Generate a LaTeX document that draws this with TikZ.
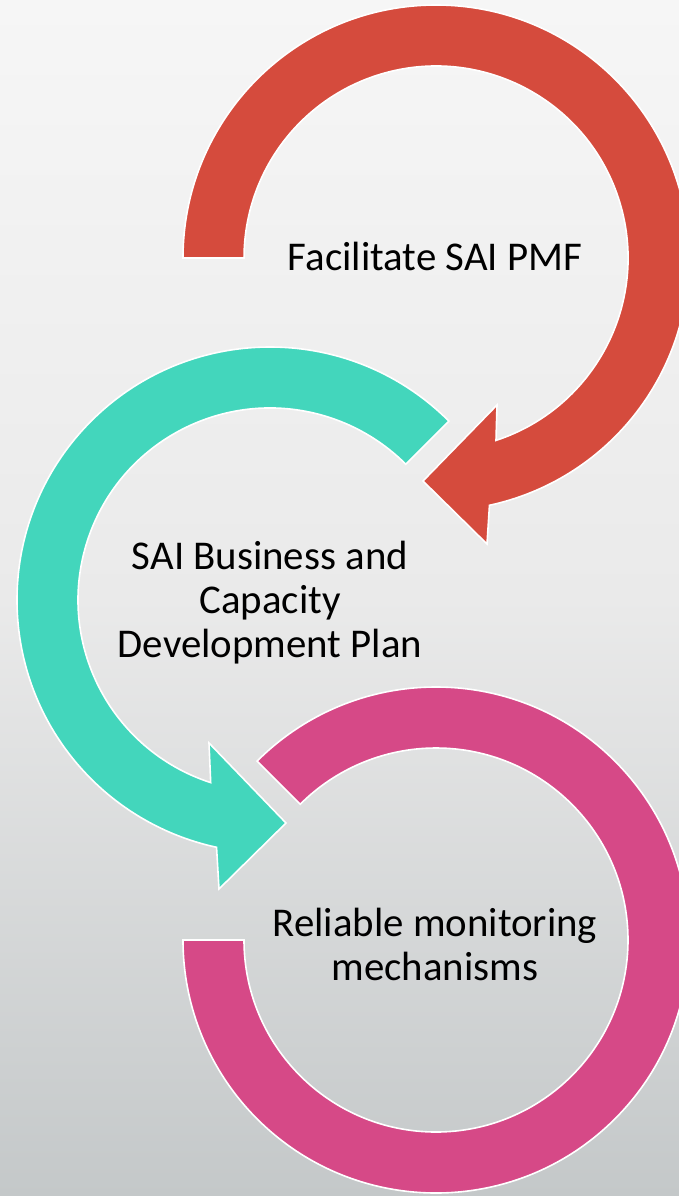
\documentclass[tikz,border=0pt]{standalone}
\usepackage{fontspec}
\setmainfont{Carlito}
\definecolor{redarrow}{HTML}{D54B3D}
\definecolor{tealarrow}{HTML}{43D6BC}
\definecolor{pinkarrow}{HTML}{D64987}
\definecolor{bgtop}{HTML}{F6F6F6}
\definecolor{bgmid}{HTML}{EAEAEA}
\definecolor{bgbot}{HTML}{C4C8C9}
\pgfdeclareverticalshading{bgshade}{100bp}{color(0bp)=(bgbot); color(25bp)=(bgbot); color(50bp)=(bgmid); color(75bp)=(bgtop); color(100bp)=(bgtop)}
\begin{document}
\begin{tikzpicture}[x=1bp,y=1bp]
\tikzset{
  ring/.style={draw=white, line width=1.6bp, line join=miter},
  lbl/.style={font=\fontsize{41}{44.5}\selectfont, text=black, align=center, inner sep=0pt}
}
\useasboundingbox (0,0) rectangle (679,-1196);
\clip (0,0) rectangle (679,-1196);
\shade[shading=bgshade] (0,0) rectangle (679,-1196);
% red arrow, centre (436,-258)
\path[ring, fill=redarrow] (183,-258) arc[start angle=180, end angle=-77.8, radius=253]
  -- (487,-544) -- (423,-481) -- (497,-405) -- (496,-440.4)
  arc[start angle=-71.8, end angle=180, radius=192] -- cycle;
% teal arrow, centre (270,-600)
\path[ring, fill=tealarrow] (448.9,-421.1) arc[start angle=45, end angle=257.8, radius=253]
  -- (219,-889) -- (286,-823) -- (209,-743) -- (210.7,-782.6)
  arc[start angle=252, end angle=45, radius=192] -- cycle;
% pink ring, centre (436,-940)
\path[ring, fill=pinkarrow] (257.1,-761.1) arc[start angle=135, end angle=-180, radius=253]
  -- (244,-940) arc[start angle=-180, end angle=135, radius=192] -- cycle;
\node[lbl] (t1) at (435,-256) {Facilitate SAI PMF};
\node[lbl] (t2) at (270,-602.5) {SAI Business and\\Capacity\\Development Plan};
\node[lbl] (t3) at (435,-944.5) {Reliable monitoring\\mechanisms};
\end{tikzpicture}
\end{document}
